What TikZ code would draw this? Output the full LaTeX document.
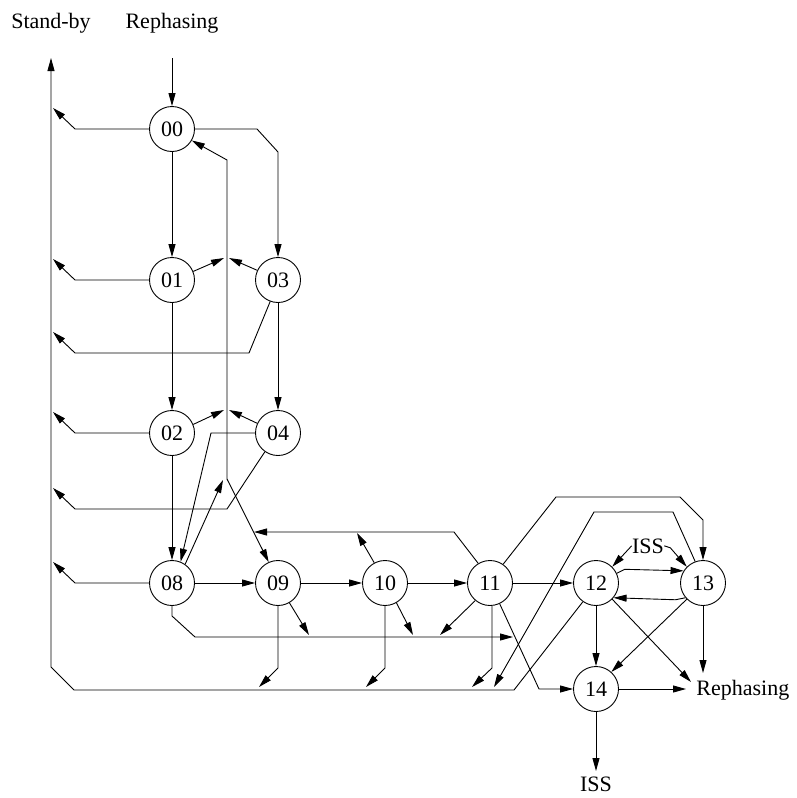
\documentclass[tikz,border=0pt]{standalone}
\usepackage{fontspec}
\setmainfont{Liberation Serif}
\usetikzlibrary{arrows.meta}
\begin{document}
\begin{tikzpicture}[x=1pt,y=-1pt,
  line width=0.9pt,
  st/.style={circle,draw,minimum size=45pt,inner sep=0pt,font=\fontsize{22}{26}\selectfont},
  lbl/.style={inner sep=0pt,font=\fontsize{22}{26}\selectfont},
  arr/.style={-{Triangle[length=13pt,width=7pt]}}]
\useasboundingbox[fill=white] (0,0) rectangle (797,798);
% states
\node[st] (n00) at (172,129) {00};
\node[st] (n01) at (172,280) {01};
\node[st] (n03) at (278,280) {03};
\node[st] (n02) at (172,433) {02};
\node[st] (n04) at (278,433) {04};
\node[st] (n08) at (172,583) {08};
\node[st] (n09) at (278,583) {09};
\node[st] (n10) at (385,583) {10};
\node[st] (n11) at (490,583) {11};
\node[st] (n12) at (596,583) {12};
\node[st] (n13) at (703,583) {13};
\node[st] (n14) at (596,689) {14};
% labels
\node[lbl,anchor=base] (sb) at (51,28) {Stand-by};
\node[lbl,anchor=base] (rpT) at (172,28) {Rephasing};
\node[lbl,anchor=base west] (rpR) at (696,695) {Rephasing};
\node[lbl,anchor=base] (issT) at (648,553) {ISS};
\node[lbl,anchor=base] (issB) at (596,791) {ISS};
\coordinate (sbTip) at (51,58);
\coordinate (rpTop) at (172,58);
\coordinate (rpA) at (691,682);
\coordinate (rpB) at (703,673);
\coordinate (rpC) at (686,689);
\coordinate (issTip) at (596,771);
% top entry
\draw[arr] (rpTop) -- (n00.north);
% main stand-by bus
\draw[arr] (n12.235) -- (514,690) -- (74,690) -- (51,667) -- (sbTip);
% side arrows to stand-by
\draw[arr] (n00.west) -- (75,129) -- (53,108);
\draw[arr] (n01.west) -- (75,280) -- (53,259);
\draw[arr] (n03.250) -- (249,353) -- (75,353) -- (53,332);
\draw[arr] (n02.west) -- (75,433) -- (53,412);
\draw[arr] (n04.235) -- (227,509) -- (75,509) -- (53,488);
\draw[arr] (n08.west) -- (75,583) -- (53,562);
% column transitions
\draw[arr] (n00.south) -- (n01.north);
\draw[arr] (n00.east) -- (257,129) -- (278,152) -- (n03.north);
\draw[arr] (n01.south) -- (n02.north);
\draw[arr] (n03.south) -- (n04.north);
\draw[arr] (n02.south) -- (n08.north);
\draw[arr] (n04.west) -- (211,433) -- (n08.68);
% bus at x=227
\draw[arr] (227,479) -- (227,160) -- (n00.-30);
\draw[arr] (227,479) -- (n09.114);
\draw[arr] (n08.55) -- (223,480);
\draw[arr] (n01.22) -- (224,258);
\draw[arr] (n03.155) -- (229,258);
\draw[arr] (n02.22) -- (224,410);
\draw[arr] (n04.155) -- (229,410);
% row
\draw[arr] (n08.east) -- (n09.west);
\draw[arr] (n09.east) -- (n10.west);
\draw[arr] (n10.east) -- (n11.west);
\draw[arr] (n11.east) -- (n12.west);
% back line 11 -> 09
\draw[arr] (n11.121) -- (454,532) -- (254,532);
\draw[arr] (n10.118) -- (357,533);
% line 08 -> 14
\draw[arr] (n08.south) -- (172,616) -- (195,637) -- (513,637);
\draw[arr] (n09.-60) -- (309,635);
\draw[arr] (n10.-60) -- (413,635);
\draw[arr] (n11.230) -- (440,635);
\draw[arr] (n11.-65) -- (539,689) -- (n14.west);
% drops to bottom bus
\draw[arr] (n09.south) -- (278,668) -- (259,687);
\draw[arr] (n10.south) -- (385,668) -- (366,687);
\draw[arr] (n11.-85) -- (492,668) -- (472,687);
\draw[arr] (n13.110) -- (673,512) -- (594,512) -- (494,687);
% 11 -> 13
\draw[arr] (n11.55) -- (556,497) -- (680,497) -- (703,520) -- (n13.north);
% 12 / 13 cluster
\draw[arr] (issT.west) -- (n12.45);
\draw[arr] (issT.east) -- ++(6,2) -- (n13.135);
\draw[arr] (n12.25) -- ++(8,-4) -- (n13.148);
\draw[arr] (n13.-140) -- ++(-10,2) -- (n12.-40);
\draw[arr] (n12.south) -- (n14.north);
\draw[arr] (n12.-45) -- (rpA);
\draw[arr] (n13.-135) -- (n14.48);
\draw[arr] (n13.south) -- (rpB);
\draw[arr] (n14.east) -- (rpC);
\draw[arr] (n14.south) -- (issTip);
\end{tikzpicture}
\end{document}
